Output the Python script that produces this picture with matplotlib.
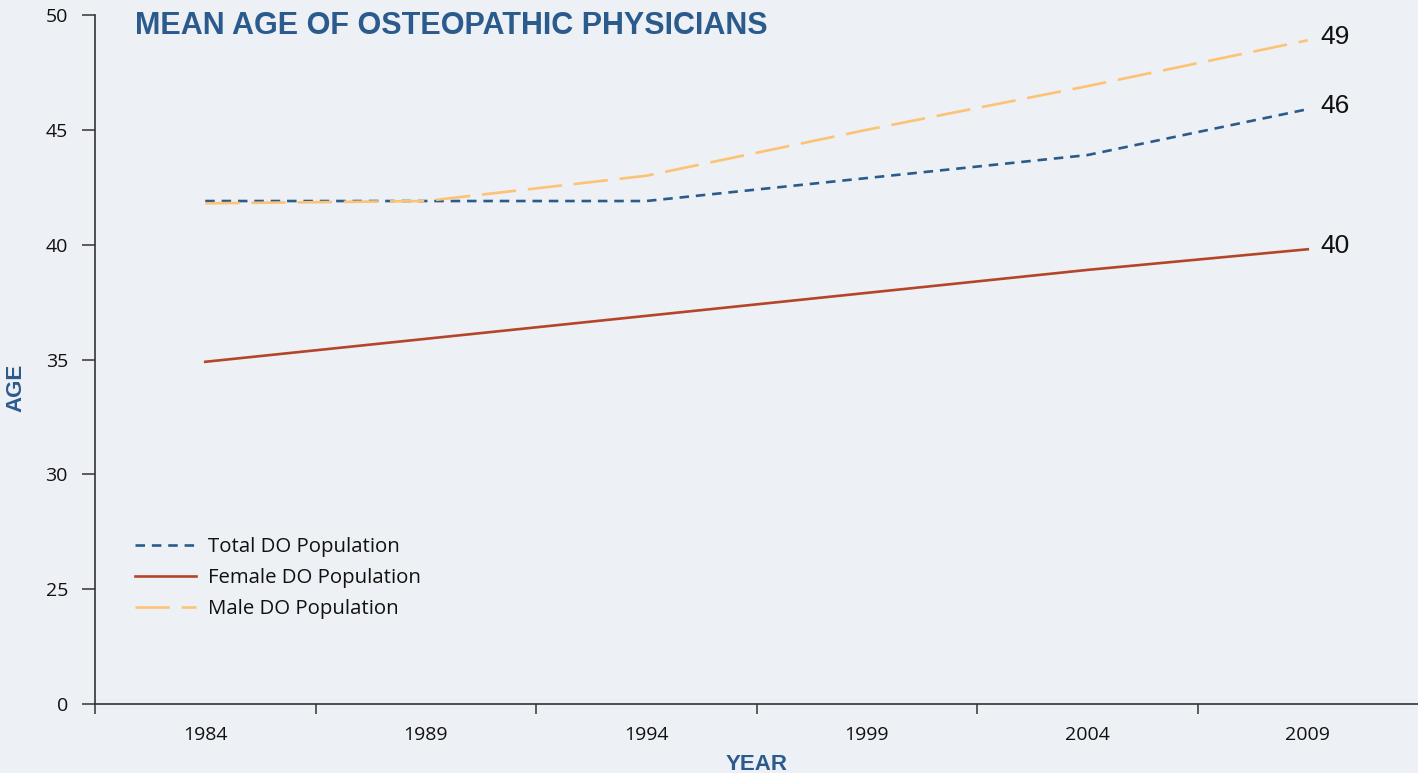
import matplotlib.pyplot as plt

years = ['1984', '1989', '1994', '1999', '2004', '2009']
total_do = [41.9, 41.9, 41.9, 42.9, 43.9, 45.9]
female_do = [34.9, 35.9, 36.9, 37.9, 38.9, 39.8]
male_do = [41.8, 41.9, 43.0, 45.0, 46.9, 48.9]
end_labels = ['46', '40', '49']

y_ticks = [20, 25, 30, 35, 40, 45, 50]
y_tick_labels = ['0', '25', '30', '35', '40', '45', '50']

bg = '#edf0f5'
blue = '#2b5b8c'
red = '#b5452a'
gold = '#fdc374'

plt.rcParams['font.family'] = ['Open Sans', 'DejaVu Sans']

fig = plt.figure(figsize=(14.18, 7.73), dpi=100, facecolor=bg)
ax = fig.add_axes([95 / 1418, 1 - 704 / 773, 1 - 95 / 1418, (704 - 15) / 773])
ax.set_facecolor(bg)

x = list(range(len(years)))
series = [
    (total_do, blue, (0, (3.6, 2.6)), 'Total DO Population'),
    (female_do, red, '-', 'Female DO Population'),
    (male_do, gold, (0, (13, 4.5)), 'Male DO Population'),
]
for (vals, col, ls, lab), end in zip(series, end_labels):
    ax.plot(x, vals, color=col, linestyle=ls, linewidth=1.9, label=lab)
    ax.annotate(end, (x[-1], vals[-1]), xytext=(9, 2), textcoords='offset points',
                va='center', ha='left', fontsize=19, family='Liberation Sans', color='#111111')

ax.set_xlim(-0.5, 5.5)
ax.set_ylim(20, 50)

ax.set_xticks(x)
ax.set_xticklabels(years)
ax.set_xticks([i - 0.5 for i in range(6)], minor=True)
ax.tick_params(axis='x', which='major', length=0, pad=16, labelsize=14, labelcolor='#111111')
ax.tick_params(axis='x', which='minor', length=7, width=1.1, color='#333333', direction='out')

ax.set_yticks(y_ticks)
ax.set_yticklabels(y_tick_labels)
ax.tick_params(axis='y', length=9.5, width=1.1, color='#333333', pad=10,
               labelsize=14, labelcolor='#111111', direction='out')

for s in ['top', 'right']:
    ax.spines[s].set_visible(False)
for s in ['left', 'bottom']:
    ax.spines[s].set_color('#333333')
    ax.spines[s].set_linewidth(1.2)

fig.text(135 / 1418, 1 - 26 / 773, 'MEAN AGE OF OSTEOPATHIC PHYSICIANS', color=blue,
         fontsize=22, fontweight='bold', family='Liberation Sans', va='center', ha='left')
fig.text(16 / 1418, 1 - 388 / 773, 'AGE', color=blue, fontsize=16, fontweight='bold',
         rotation=90, va='center', ha='center', family='Liberation Sans')
fig.text(757 / 1418, 1 - 765 / 773, 'YEAR', color=blue, fontsize=16, fontweight='bold',
         va='center', ha='center', family='Liberation Sans')

leg = ax.legend(loc='upper left', bbox_to_anchor=(40 / 1323, 1 - (537 - 15) / 689),
                frameon=False, fontsize=14.7, handlelength=3.0, handletextpad=0.6,
                labelspacing=0.55, borderaxespad=0, borderpad=0)
for t in leg.get_texts():
    t.set_color('#111111')

fig.savefig('out.png', dpi=100, facecolor=bg)
